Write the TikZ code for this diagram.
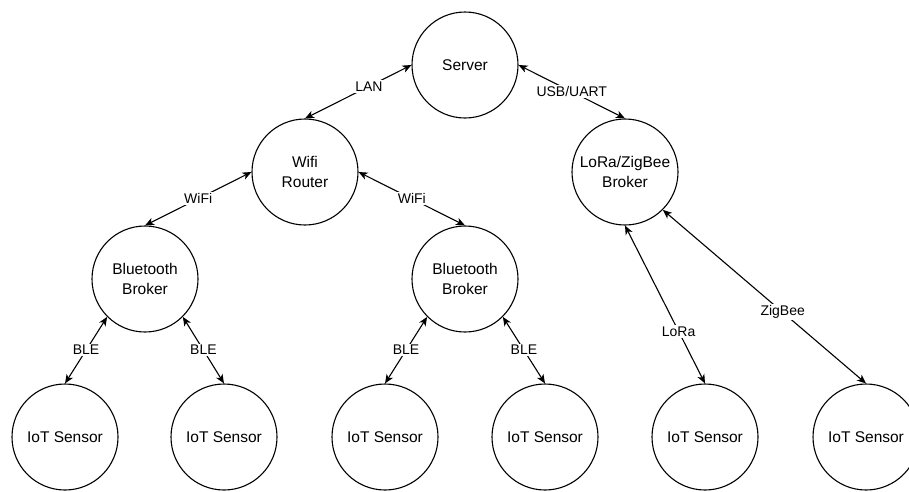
\documentclass[tikz,border=0pt]{standalone}
\usepackage{fontspec}
\setmainfont{Liberation Sans}
\usetikzlibrary{arrows.meta}
\begin{document}
\begin{tikzpicture}[x=1pt,y=-1pt,
  dev/.style={circle,draw,line width=1.1pt,minimum size=106pt,inner sep=0pt,align=center,
    font=\fontsize{15.5}{19.5}\selectfont},
  link/.style={line width=1.1pt,{Stealth[length=9pt,width=7.5pt,inset=2.5pt]}-{Stealth[length=9pt,width=7.5pt,inset=2.5pt]}},
  lbl/.style={fill=white,inner sep=1.5pt,font=\fontsize{14}{16}\selectfont}]
\useasboundingbox (0,0) rectangle (909,491);
\clip (0,0) rectangle (909,491);
\node[dev] (server) at (465,65) {Server};
\node[dev] (router) at (305,172) {Wifi\\Router};
\node[dev] (lora) at (625,172) {LoRa/ZigBee\\Broker};
\node[dev] (bt1) at (145,279) {Bluetooth\\Broker};
\node[dev] (bt2) at (465,279) {Bluetooth\\Broker};
\node[dev] (s1) at (65,437) {IoT Sensor};
\node[dev] (s2) at (224,437) {IoT Sensor};
\node[dev] (s3) at (385,437) {IoT Sensor};
\node[dev] (s4) at (545,437) {IoT Sensor};
\node[dev] (s5) at (705,437) {IoT Sensor};
\node[dev] (s6) at (866,437) {IoT Sensor};
\draw[link] (router.north) -- node[lbl,pos=0.6] {LAN} (server.west);
\draw[link] (server.east) -- node[lbl] {USB/UART} (lora.north);
\draw[link] (router.west) -- node[lbl] {WiFi} (bt1.north);
\draw[link] (router.east) -- node[lbl] {WiFi} (bt2.north);
\draw[link] (bt1.south west) -- node[lbl] {BLE} (s1.north);
\draw[link] (bt1.south east) -- node[lbl] {BLE} (s2.north);
\draw[link] (bt2.south west) -- node[lbl] {BLE} (s3.north);
\draw[link] (bt2.south east) -- node[lbl] {BLE} (s4.north);
\draw[link] (lora.south) -- node[lbl,pos=0.67] {LoRa} (s5.north);
\draw[link] (lora.south east) -- node[lbl,pos=0.59] {ZigBee} (s6.north);
\end{tikzpicture}
\end{document}
